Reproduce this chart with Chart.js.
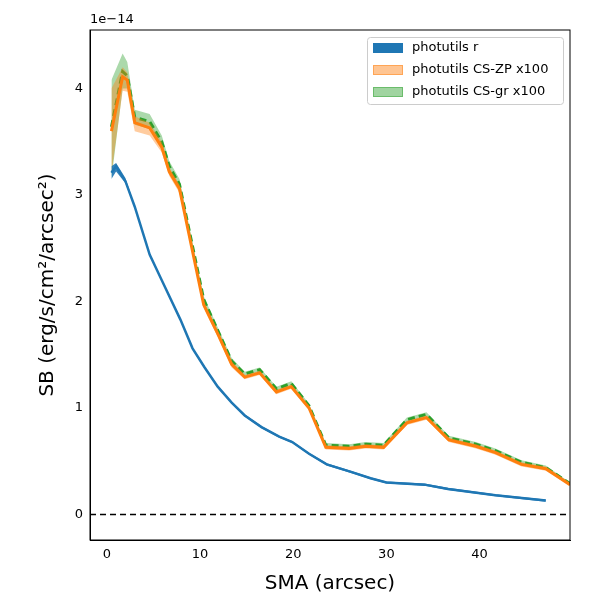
<!DOCTYPE html>
<html>
<head>
<meta charset="utf-8">
<script src="https://cdn.jsdelivr.net/npm/chart.js@4"></script>
<style>body{margin:0;background:#fff}</style>
</head>
<body>
<canvas id="c" width="600" height="600"></canvas>
<script>
// SB values in units of 1e-14
const smaR = [0.5, 1.0, 2.0, 3.0, 4.6, 5.9, 7.9, 9.2, 10.5, 11.9, 13.4, 14.8, 16.6, 18.5, 19.9, 21.7, 23.6, 26.2, 28.3, 30.0, 34.1, 36.6, 41.7, 47.1];
const sbR = [3.21, 3.27, 3.13, 2.89, 2.44, 2.2, 1.83, 1.56, 1.38, 1.2, 1.05, 0.93, 0.82, 0.73, 0.68, 0.57, 0.47, 0.40, 0.34, 0.30, 0.28, 0.24, 0.18, 0.13];
const sbRlo = [3.15, 3.22, 3.11, 2.88, 2.43, 2.19, 1.82, 1.55, 1.37, 1.19, 1.04, 0.92, 0.81, 0.72, 0.67, 0.56, 0.46, 0.39, 0.33, 0.29, 0.27, 0.23, 0.17, 0.12];
const sbRhi = [3.27, 3.3, 3.16, 2.9, 2.45, 2.21, 1.84, 1.57, 1.39, 1.21, 1.06, 0.94, 0.83, 0.74, 0.69, 0.58, 0.48, 0.41, 0.35, 0.31, 0.29, 0.25, 0.19, 0.14];

const smaCS = [0.5, 1.7, 2.2, 3.0, 4.6, 5.9, 6.7, 7.8, 10.4, 12.0, 13.4, 14.8, 16.4, 18.2, 19.8, 21.7, 23.5, 26.0, 27.8, 29.7, 32.2, 34.3, 36.7, 39.6, 41.7, 44.5, 47.1, 49.7];
const sbZP = [3.6, 4.11, 4.08, 3.68, 3.63, 3.45, 3.22, 3.06, 1.97, 1.68, 1.41, 1.29, 1.33, 1.15, 1.2, 1.0, 0.63, 0.62, 0.64, 0.63, 0.86, 0.91, 0.70, 0.64, 0.58, 0.47, 0.43, 0.28];
const sbZPlo = [3.2, 3.98, 3.97, 3.6, 3.56, 3.4, 3.18, 3.02, 1.94, 1.65, 1.38, 1.27, 1.31, 1.13, 1.18, 0.98, 0.61, 0.60, 0.62, 0.61, 0.84, 0.89, 0.68, 0.62, 0.56, 0.45, 0.41, 0.27];
const sbZPhi = [4.0, 4.2, 4.15, 3.74, 3.68, 3.5, 3.26, 3.1, 2.0, 1.71, 1.44, 1.31, 1.35, 1.17, 1.22, 1.02, 0.65, 0.64, 0.66, 0.65, 0.88, 0.93, 0.72, 0.66, 0.6, 0.49, 0.45, 0.29];
const sbGR = [3.64, 4.16, 4.12, 3.73, 3.69, 3.5, 3.27, 3.1, 2.02, 1.71, 1.44, 1.32, 1.36, 1.18, 1.23, 1.02, 0.65, 0.64, 0.66, 0.65, 0.89, 0.94, 0.72, 0.66, 0.6, 0.49, 0.44, 0.29];
const sbGRlo = [3.15, 4.0, 4.0, 3.66, 3.62, 3.45, 3.22, 3.06, 1.99, 1.68, 1.41, 1.3, 1.34, 1.16, 1.21, 1.0, 0.63, 0.62, 0.64, 0.63, 0.87, 0.92, 0.7, 0.64, 0.58, 0.47, 0.42, 0.28];
const sbGRhi = [4.08, 4.33, 4.25, 3.8, 3.76, 3.56, 3.32, 3.15, 2.05, 1.74, 1.47, 1.34, 1.38, 1.2, 1.25, 1.04, 0.67, 0.66, 0.68, 0.67, 0.91, 0.96, 0.74, 0.68, 0.62, 0.51, 0.46, 0.3];

const xTicks = [0, 10, 20, 30, 40];
const yTicks = [0, 1, 2, 3, 4];
const legendLabels = ['photutils r', 'photutils CS-ZP x100', 'photutils CS-gr x100'];

const pts = (xs, ys) => xs.map((x, i) => ({x: x, y: ys[i]}));
const blank = {pointRadius: 0, borderWidth: 0, borderColor: 'rgba(0,0,0,0)', fill: false};

const legendPlugin = {
    id: 'boxLegend',
    afterDraw(chart) {
        const c = chart.ctx;
        c.save();
        c.font = '13px "DejaVu Sans"';
        c.textBaseline = 'middle';
        c.fillStyle = '#000';
        c.fillText('1e\u221214', 90, 20);
        c.fillStyle = 'rgba(255,255,255,0.8)';
        c.strokeStyle = '#ccc';
        c.lineWidth = 1;
        c.beginPath();
        c.roundRect(367.5, 37.5, 196, 67, 3);
        c.fill(); c.stroke();
        const fills = ['#1f77b4', 'rgba(255,127,14,0.45)', 'rgba(44,160,44,0.45)'];
        legendLabels.forEach((t, i) => {
            const y = 48 + i * 22;
            c.fillStyle = fills[i];
            c.fillRect(373, y - 5, 30, 10);
            c.strokeStyle = fills[i];
            c.strokeRect(373.5, y - 4.5, 29, 9);
            c.fillStyle = '#000';
            c.fillText(t, 412, y);
        });
        c.restore();
    }
};

new Chart(document.getElementById('c'), {
    type: 'line',
    data: {
        datasets: [
            Object.assign({data: pts(smaR, sbRlo)}, blank),
            Object.assign({data: pts(smaR, sbRhi)}, blank, {fill: '-1', backgroundColor: 'rgba(31,119,180,0.9)'}),
            {data: pts(smaR, sbR), borderColor: '#1f77b4', borderWidth: 2.5, pointRadius: 0, fill: false},
            Object.assign({data: pts(smaCS, sbZPlo)}, blank),
            Object.assign({data: pts(smaCS, sbZPhi)}, blank, {fill: '-1', backgroundColor: 'rgba(255,127,14,0.4)'}),
            {data: pts(smaCS, sbZP), borderColor: '#ff7f0e', borderWidth: 3, pointRadius: 0, fill: false},
            Object.assign({data: pts(smaCS, sbGRlo)}, blank),
            Object.assign({data: pts(smaCS, sbGRhi)}, blank, {fill: '-1', backgroundColor: 'rgba(44,160,44,0.4)'}),
            {data: pts(smaCS, sbGR), borderColor: '#2ca02c', borderWidth: 3, borderDash: [7, 4], pointRadius: 0, fill: false},
            {data: [{x: -1.8, y: 0}, {x: 49.7, y: 0}], borderColor: '#000', borderWidth: 1.6, borderDash: [6, 4], pointRadius: 0, fill: false}
        ]
    },
    options: {
        responsive: false,
        animation: false,
        layout: {padding: {left: 36, top: 30, right: 30, bottom: 0}},
        plugins: {legend: {display: false}, tooltip: {enabled: false}},
        scales: {
            x: {
                type: 'linear', min: -1.8, max: 49.7,
                afterBuildTicks: s => { s.ticks = xTicks.map(v => ({value: v})); },
                afterFit: s => { s.height = 60; },
                grid: {display: false, drawTicks: true, tickLength: 4, tickColor: '#000'},
                border: {color: '#000', width: 1},
                ticks: {color: '#000', font: {size: 13, family: 'DejaVu Sans'}, maxRotation: 0},
                title: {display: true, text: 'SMA (arcsec)', color: '#000', font: {size: 20, family: 'DejaVu Sans'}, padding: {top: 2}}
            },
            y: {
                type: 'linear', min: -0.24, max: 4.55,
                afterBuildTicks: s => { s.ticks = yTicks.map(v => ({value: v})); },
                afterFit: s => { s.width = 54; },
                grid: {display: false, drawTicks: true, tickLength: 4, tickColor: '#000'},
                border: {color: '#000', width: 1},
                ticks: {color: '#000', font: {size: 13, family: 'DejaVu Sans'}},
                title: {display: true, text: 'SB (erg/s/cm\u00b2/arcsec\u00b2)', color: '#000', font: {size: 20, family: 'DejaVu Sans'}, padding: 0}
            }
        }
    },
    plugins: [legendPlugin, {
        id: 'frame',
        afterDraw(chart) {
            const a = chart.chartArea, c = chart.ctx;
            c.save(); c.strokeStyle = '#000'; c.lineWidth = 1;
            c.strokeRect(a.left, a.top, a.right - a.left, a.bottom - a.top);
            c.restore();
        }
    }]
});
</script>
</body>
</html>
